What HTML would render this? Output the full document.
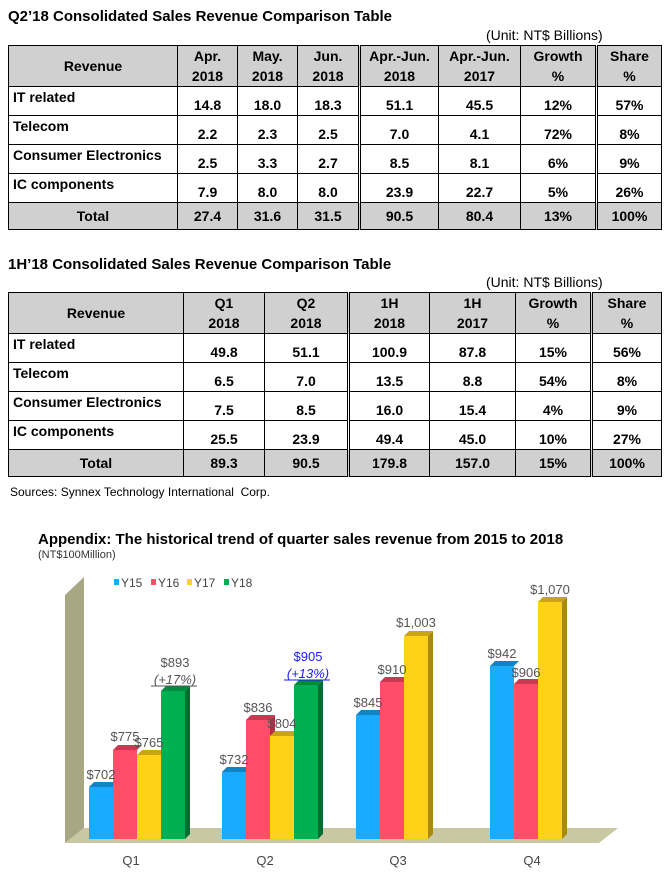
<!DOCTYPE html>
<html><head><meta charset="utf-8"><style>
body{margin:0;width:671px;height:878px;background:#fff;position:relative;font-family:"Liberation Sans",Arial,sans-serif;overflow:hidden}
.t{position:absolute;font-weight:bold;font-size:15px;color:#000}
.u{position:absolute;font-size:14px;color:#000}
table{position:absolute;left:8px;border-collapse:collapse;table-layout:fixed;font-weight:bold;font-size:14px}
td{border:1px solid #000;padding:0;text-align:center;vertical-align:bottom;padding-bottom:2px;height:26px}
tr.h td{background:#d0d0d0;height:39px;vertical-align:middle;line-height:20px;padding:0}
tr.tot td{background:#d0d0d0;vertical-align:middle;padding:0}
td.l{text-align:left;vertical-align:top;padding-left:4px;padding-top:2px;padding-bottom:0}
tr.h td.l,tr.tot td.l{text-align:center;vertical-align:middle;padding:0}
td.d{border-left:3px double #000}
</style></head><body>
<div class="t" style="left:8px;top:8px">Q2’18 Consolidated Sales Revenue Comparison Table</div>
<div class="u" style="left:486px;top:27px">(Unit: NT$ Billions)</div>
<table style="top:45px;width:653px">
<colgroup><col style="width:169px"><col style="width:60px"><col style="width:60px"><col style="width:62px"><col style="width:79px"><col style="width:82px"><col style="width:76px"><col style="width:65px"></colgroup>
<tr class="h"><td class="l">Revenue</td><td>Apr.<br>2018</td><td>May.<br>2018</td><td>Jun.<br>2018</td><td class="d">Apr.-Jun.<br>2018</td><td>Apr.-Jun.<br>2017</td><td>Growth<br>%</td><td class="d">Share<br>%</td></tr>
<tr><td class="l">IT related</td><td>14.8</td><td>18.0</td><td>18.3</td><td class="d">51.1</td><td>45.5</td><td>12%</td><td class="d">57%</td></tr>
<tr><td class="l">Telecom</td><td>2.2</td><td>2.3</td><td>2.5</td><td class="d">7.0</td><td>4.1</td><td>72%</td><td class="d">8%</td></tr>
<tr><td class="l">Consumer Electronics</td><td>2.5</td><td>3.3</td><td>2.7</td><td class="d">8.5</td><td>8.1</td><td>6%</td><td class="d">9%</td></tr>
<tr><td class="l">IC components</td><td>7.9</td><td>8.0</td><td>8.0</td><td class="d">23.9</td><td>22.7</td><td>5%</td><td class="d">26%</td></tr>
<tr class="tot"><td class="l">Total</td><td>27.4</td><td>31.6</td><td>31.5</td><td class="d">90.5</td><td>80.4</td><td>13%</td><td class="d">100%</td></tr>
</table>
<div class="t" style="left:8px;top:256px">1H’18 Consolidated Sales Revenue Comparison Table</div>
<div class="u" style="left:486px;top:274px">(Unit: NT$ Billions)</div>
<table style="top:292px;width:653px">
<colgroup><col style="width:175px"><col style="width:81px"><col style="width:84px"><col style="width:81px"><col style="width:86px"><col style="width:76px"><col style="width:70px"></colgroup>
<tr class="h"><td class="l">Revenue</td><td>Q1<br>2018</td><td>Q2<br>2018</td><td class="d">1H<br>2018</td><td>1H<br>2017</td><td>Growth<br>%</td><td class="d">Share<br>%</td></tr>
<tr><td class="l">IT related</td><td>49.8</td><td>51.1</td><td class="d">100.9</td><td>87.8</td><td>15%</td><td class="d">56%</td></tr>
<tr><td class="l">Telecom</td><td>6.5</td><td>7.0</td><td class="d">13.5</td><td>8.8</td><td>54%</td><td class="d">8%</td></tr>
<tr><td class="l">Consumer Electronics</td><td>7.5</td><td>8.5</td><td class="d">16.0</td><td>15.4</td><td>4%</td><td class="d">9%</td></tr>
<tr><td class="l">IC components</td><td>25.5</td><td>23.9</td><td class="d">49.4</td><td>45.0</td><td>10%</td><td class="d">27%</td></tr>
<tr class="tot"><td class="l">Total</td><td>89.3</td><td>90.5</td><td class="d">179.8</td><td>157.0</td><td>15%</td><td class="d">100%</td></tr>
</table>
<div class="u" style="left:10px;top:485px;font-size:12px">Sources: Synnex Technology International&nbsp; Corp.</div>
<div class="t" style="left:38px;top:531px;font-size:15px">Appendix: The historical trend of quarter sales revenue from 2015 to 2018</div>
<div class="u" style="left:38px;top:549px;font-size:11px;color:#333">(NT$100Million)</div>
<svg style="position:absolute;left:0;top:0" width="671" height="878" font-family="Liberation Sans,Arial,sans-serif">
<polygon points="65,595 84,577 84,828 65,843" fill="#a8a784"/>
<polygon points="65,843 84,828 618,828 599,843" fill="#c9c8a3"/>
<g font-size="12" fill="#444">
<rect x="114" y="579" width="5" height="6" fill="#1aabff"/><text x="121" y="587">Y15</text>
<rect x="151" y="579" width="5" height="6" fill="#ff4d6a"/><text x="158" y="587">Y16</text>
<rect x="187" y="579" width="5" height="6" fill="#ffd21a"/><text x="194" y="587">Y17</text>
<rect x="224" y="579" width="5" height="6" fill="#00b050"/><text x="231" y="587">Y18</text>
</g>
<!-- Q1 -->
<g>
<polygon points="89,787 94,782 118,782 113,787" fill="#1283c4"/><rect x="89" y="787" width="24" height="52" fill="#1aabff"/>
<polygon points="113,750 118,745 142,745 137,750" fill="#c93a52"/><rect x="113" y="750" width="24" height="89" fill="#ff4d6a"/>
<polygon points="137,755 142,750 166,750 161,755" fill="#c9a514"/><rect x="137" y="755" width="24" height="84" fill="#ffd21a"/>
<polygon points="161,691 166,686 190,686 185,691" fill="#008a3e"/><polygon points="185,691 190,686 190,834 185,839" fill="#006e31"/><rect x="161" y="691" width="24" height="148" fill="#00b050"/>
</g>
<!-- Q2 -->
<g>
<polygon points="222,772 227,767 251,767 246,772" fill="#1283c4"/><rect x="222" y="772" width="24" height="67" fill="#1aabff"/>
<polygon points="246,720 251,715 275,715 270,720" fill="#c93a52"/><polygon points="270,720 275,715 275,735 270,736" fill="#b03046"/><rect x="246" y="720" width="24" height="119" fill="#ff4d6a"/>
<polygon points="270,736 275,731 299,731 294,736" fill="#c9a514"/><rect x="270" y="736" width="24" height="103" fill="#ffd21a"/>
<polygon points="294,685 299,680 323,680 318,685" fill="#008a3e"/><polygon points="318,685 323,680 323,834 318,839" fill="#006e31"/><rect x="294" y="685" width="24" height="154" fill="#00b050"/>
</g>
<!-- Q3 -->
<g>
<polygon points="356,715 361,710 385,710 380,715" fill="#1283c4"/><rect x="356" y="715" width="24" height="124" fill="#1aabff"/>
<polygon points="380,682 385,677 409,677 404,682" fill="#c93a52"/><rect x="380" y="682" width="24" height="157" fill="#ff4d6a"/>
<polygon points="404,636 409,631 433,631 428,636" fill="#c9a514"/><polygon points="428,636 433,631 433,834 428,839" fill="#a88a10"/><rect x="404" y="636" width="24" height="203" fill="#ffd21a"/>
</g>
<!-- Q4 -->
<g>
<polygon points="490,666 495,661 519,661 514,666" fill="#1283c4"/><rect x="490" y="666" width="24" height="173" fill="#1aabff"/>
<polygon points="514,684 519,679 543,679 538,684" fill="#c93a52"/><rect x="514" y="684" width="24" height="155" fill="#ff4d6a"/>
<polygon points="538,602 543,597 567,597 562,602" fill="#c9a514"/><polygon points="562,602 567,597 567,834 562,839" fill="#a88a10"/><rect x="538" y="602" width="24" height="237" fill="#ffd21a"/>
</g>
<g font-size="13" fill="#555" text-anchor="middle">
<text x="101" y="779">$702</text><text x="125" y="741">$775</text><text x="149" y="747">$765</text>
<text x="175" y="667">$893</text><text x="175" y="684" font-style="italic">(+17%)</text>
<line x1="151" y1="686" x2="197" y2="686" stroke="#555" stroke-width="1"/>
<text x="234" y="764">$732</text><text x="258" y="712">$836</text><text x="282" y="728">$804</text>
<text x="308" y="661" fill="#1a1aff">$905</text><text x="308" y="678" fill="#1a1aff" font-style="italic">(+13%)</text>
<line x1="284" y1="680" x2="330" y2="680" stroke="#1a1aff" stroke-width="1"/>
<text x="368" y="707">$845</text><text x="392" y="674">$910</text><text x="416" y="627">$1,003</text>
<text x="502" y="658">$942</text><text x="526" y="677">$906</text><text x="550" y="594">$1,070</text>
</g>
<g font-size="13" fill="#444" text-anchor="middle">
<text x="131" y="865">Q1</text><text x="265" y="865">Q2</text><text x="398" y="865">Q3</text><text x="532" y="865">Q4</text>
</g>
</svg>
</body></html>
